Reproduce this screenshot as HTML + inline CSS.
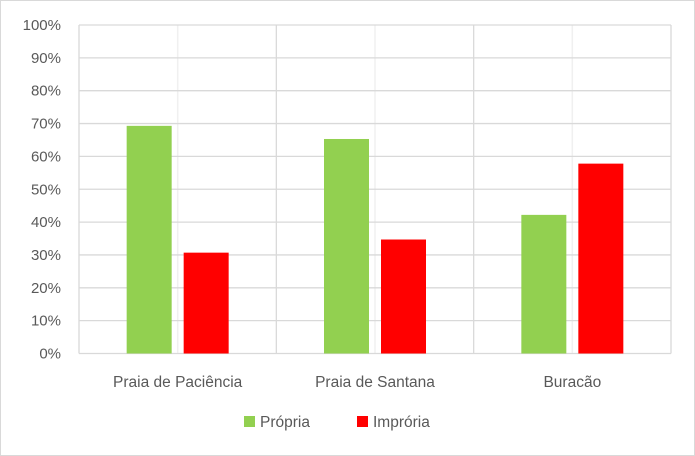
<!DOCTYPE html>
<html><head><meta charset="utf-8"><style>
html,body{margin:0;padding:0;background:#fff}
#c{position:relative;width:695px;height:456px;box-sizing:border-box;border:1px solid #d9d9d9;font-family:"Liberation Sans",sans-serif}
svg text{font-family:"Liberation Sans",sans-serif;fill:#595959}
</style></head><body>
<div id="c">
<svg id="s" width="695" height="456" style="position:absolute;left:-1px;top:-1px"></svg>
</div>
<script>
const categories=["Praia de Paciência","Praia de Santana","Buracão"];
const propria=[69.3,65.3,42.2];
const impropria=[30.7,34.7,57.8];
const yTicks=[0,10,20,30,40,50,60,70,80,90,100];
const seriesNames=["Própria","Imprória"];
const colors=["#92d050","#ff0000"];
const NS="http://www.w3.org/2000/svg";
const s=document.getElementById('s');
const L=79,R=671,T=25,B=353.5;
const cw=(R-L)/categories.length;
function y(v){return B-(B-T)*v/100;}
function mk(t,a,p){const e=document.createElementNS(NS,t);for(const k in a)e.setAttribute(k,a[k]);(p||s).appendChild(e);return e;}
// light center lines
categories.forEach((c,i)=>{
 const l=mk('line',{x1:L+cw*(i+0.5),x2:L+cw*(i+0.5),y1:T,y2:B,stroke:'#f0f0f0','stroke-width':1.5});
 
 
});
yTicks.forEach(v=>{
 const g=mk('line',{x1:L,x2:R,y1:y(v),y2:y(v),stroke:'#d9d9d9','stroke-width':1.3});
 
 
 const t=mk('text',{x:L-18,y:y(v)+5,'text-anchor':'end','font-size':15});
 t.textContent=v+'%';
 
 
});
for(let i=0;i<=categories.length;i++){
 const l=mk('line',{x1:L+cw*i,x2:L+cw*i,y1:T,y2:B,stroke:'#d9d9d9','stroke-width':1.3});
 
 
}
const bw=45,gap=6;
categories.forEach((c,i)=>{
 const cx=L+cw*(i+0.5);
 const g=mk('rect',{x:cx-gap-bw,y:y(propria[i]),width:bw,height:B-y(propria[i]),fill:colors[0]});
 
 
 const r=mk('rect',{x:cx+gap,y:y(impropria[i]),width:bw,height:B-y(impropria[i]),fill:colors[1]});
 
 
 const t=mk('text',{x:cx,y:387,'text-anchor':'middle','font-size':15.5});
 t.textContent=c;
 
 
});
const lx=[244,357];
seriesNames.forEach((n,i)=>{
 const r=mk('rect',{x:lx[i],y:416,width:11,height:11,fill:colors[i]});
 
 
 const t=mk('text',{x:lx[i]+16,y:427,'font-size':15.5});
 t.textContent=n;
 
 
});
</script>
</body></html>
